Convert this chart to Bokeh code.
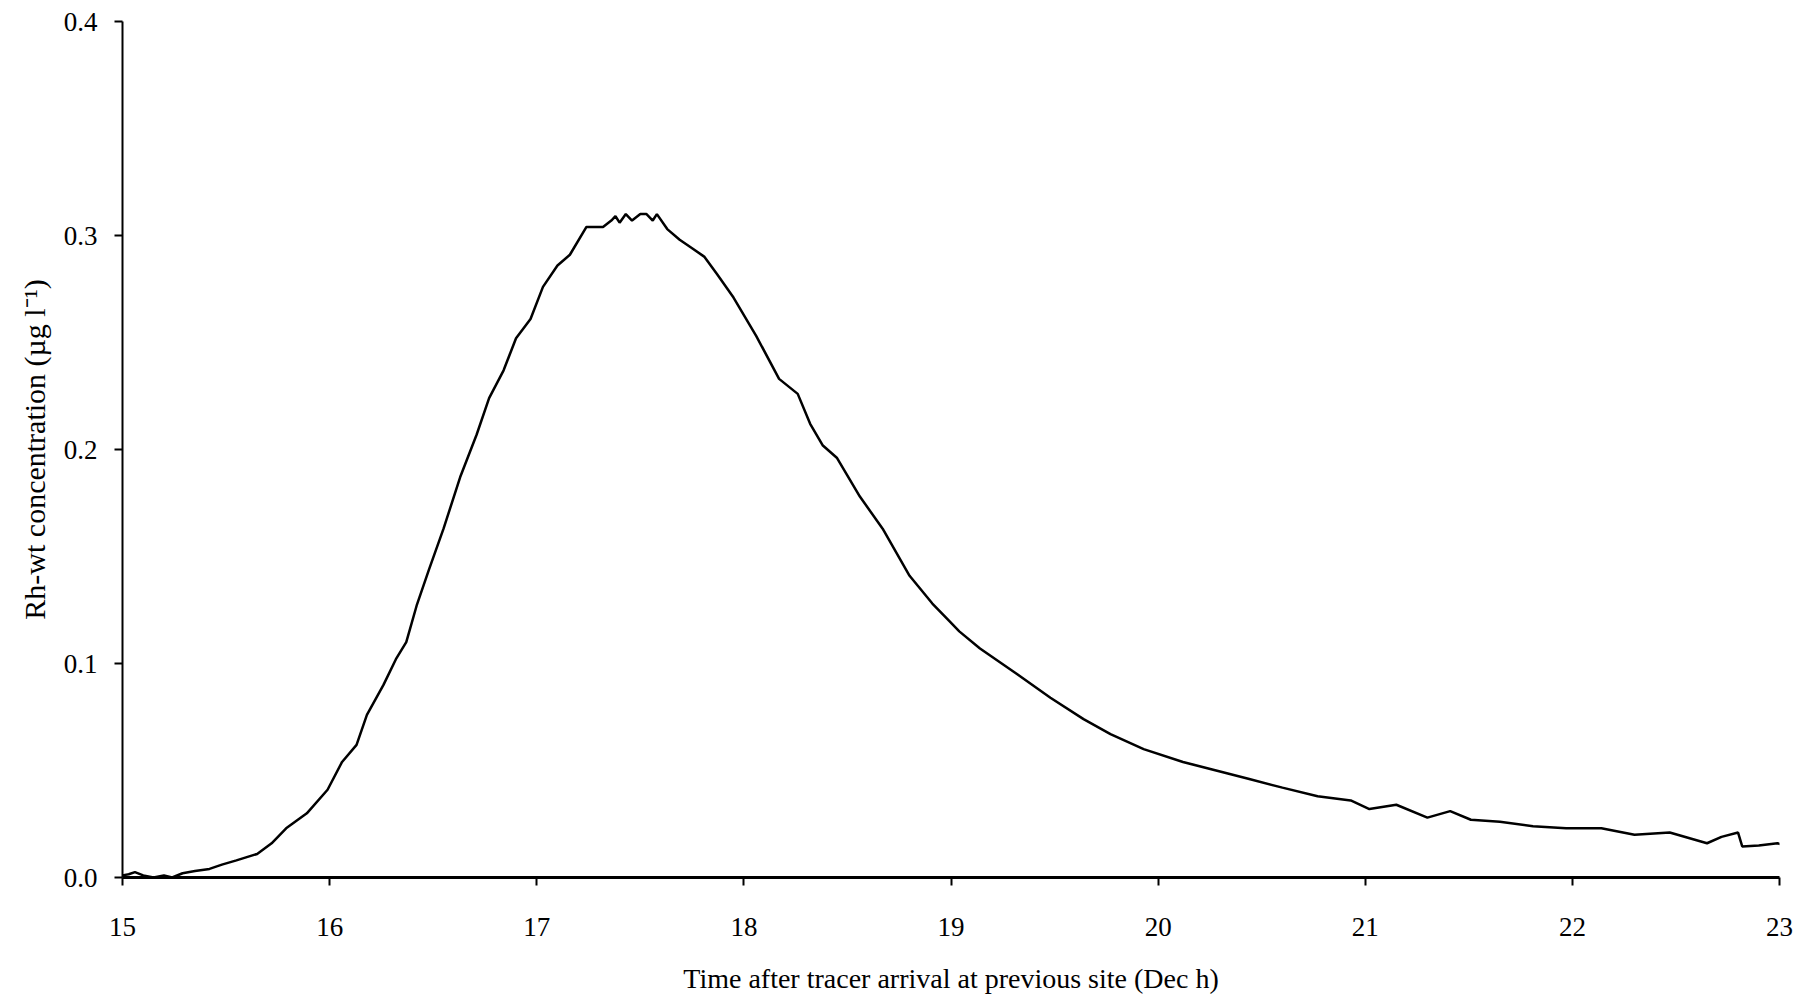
from bokeh.plotting import figure
from bokeh.models import FixedTicker, Range1d
from bokeh.embed import file_html
from bokeh.resources import INLINE

time_h = [15.00, 15.03, 15.06, 15.10, 15.15, 15.20, 15.24, 15.29, 15.35, 15.42,
          15.48, 15.55, 15.65, 15.72, 15.79, 15.89, 15.99, 16.06, 16.13, 16.18,
          16.26, 16.32, 16.37, 16.42, 16.48, 16.55, 16.63, 16.71, 16.77, 16.84,
          16.90, 16.97, 17.03, 17.10, 17.16, 17.24, 17.32, 17.36, 17.38, 17.40,
          17.43, 17.46, 17.50, 17.53, 17.56, 17.58, 17.63, 17.69, 17.75, 17.81,
          17.87, 17.95, 18.06, 18.17, 18.26, 18.32, 18.38, 18.45, 18.56, 18.67,
          18.80, 18.91, 18.99, 19.04, 19.14, 19.32, 19.48, 19.64, 19.77, 19.93,
          20.12, 20.28, 20.44, 20.60, 20.77, 20.93, 21.02, 21.15, 21.30, 21.41,
          21.51, 21.65, 21.81, 21.97, 22.14, 22.30, 22.47, 22.65, 22.72, 22.80,
          22.82, 22.90, 22.99, 23.04]
conc = [0.001, 0.0015, 0.0025, 0.001, 0.0, 0.001, 0.0, 0.002, 0.003, 0.004,
        0.006, 0.008, 0.011, 0.016, 0.023, 0.030, 0.041, 0.054, 0.062, 0.076,
        0.090, 0.102, 0.110, 0.127, 0.144, 0.163, 0.187, 0.207, 0.224, 0.237,
        0.252, 0.261, 0.276, 0.286, 0.291, 0.304, 0.304, 0.307, 0.309, 0.306,
        0.310, 0.307, 0.310, 0.310, 0.307, 0.310, 0.303, 0.298, 0.294, 0.290,
        0.282, 0.271, 0.253, 0.233, 0.226, 0.212, 0.202, 0.196, 0.178, 0.163,
        0.141, 0.128, 0.120, 0.115, 0.107, 0.095, 0.084, 0.074, 0.067, 0.060,
        0.054, 0.050, 0.046, 0.042, 0.038, 0.036, 0.032, 0.034, 0.028, 0.031,
        0.027, 0.026, 0.024, 0.023, 0.023, 0.020, 0.021, 0.016, 0.019, 0.021,
        0.0145, 0.015, 0.016, 0.0145]

x_ticks = [15, 16, 17, 18, 19, 20, 21, 22, 23]
y_ticks = [0.0, 0.1, 0.2, 0.3, 0.4]
y_tick_labels = {0.0: "0.0", 0.1: "0.1", 0.2: "0.2", 0.3: "0.3", 0.4: "0.4"}
x_title = "Time after tracer arrival at previous site (Dec h)"
y_title = "Rh-wt concentration (µg l⁻¹)"

FONT = "Liberation Serif"

p = figure(width=1798, height=996, output_backend="svg", toolbar_location=None,
           x_range=Range1d(15, 23), y_range=Range1d(0, 0.4),
           min_border_left=122, min_border_right=19, min_border_top=21,
           min_border_bottom=111)
p.outline_line_color = None
p.xgrid.visible = False
p.ygrid.visible = False
p.background_fill_color = "white"
p.border_fill_color = "white"

p.line(time_h, conc, line_color="black", line_width=2.5)

p.xaxis.ticker = FixedTicker(ticks=x_ticks)
p.yaxis.ticker = FixedTicker(ticks=y_ticks)
p.yaxis.major_label_overrides = y_tick_labels

for ax in (p.xaxis[0], p.yaxis[0]):
    ax.major_tick_in = 0
    ax.major_tick_out = 8
    ax.minor_tick_in = 0
    ax.minor_tick_out = 0
    ax.major_tick_line_color = "black"
    ax.major_tick_line_width = 2
    ax.axis_line_color = "black"
    ax.major_label_text_font = FONT
    ax.major_label_text_font_size = "27px"
    ax.major_label_text_color = "black"
    ax.axis_label_text_font = FONT
    ax.axis_label_text_font_style = "normal"
    ax.axis_label_text_color = "black"

p.xaxis.axis_line_width = 3
p.yaxis.axis_line_width = 2
p.xaxis.major_label_standoff = 32
p.yaxis.major_label_standoff = 17
p.xaxis.axis_label = x_title
p.xaxis.axis_label_text_font_size = "28px"
p.xaxis.axis_label_standoff = 24
p.yaxis.axis_label = y_title
p.yaxis.axis_label_text_font_size = "30px"
p.yaxis.axis_label_standoff = 10

open("out.html", "w").write(file_html(p, INLINE))
